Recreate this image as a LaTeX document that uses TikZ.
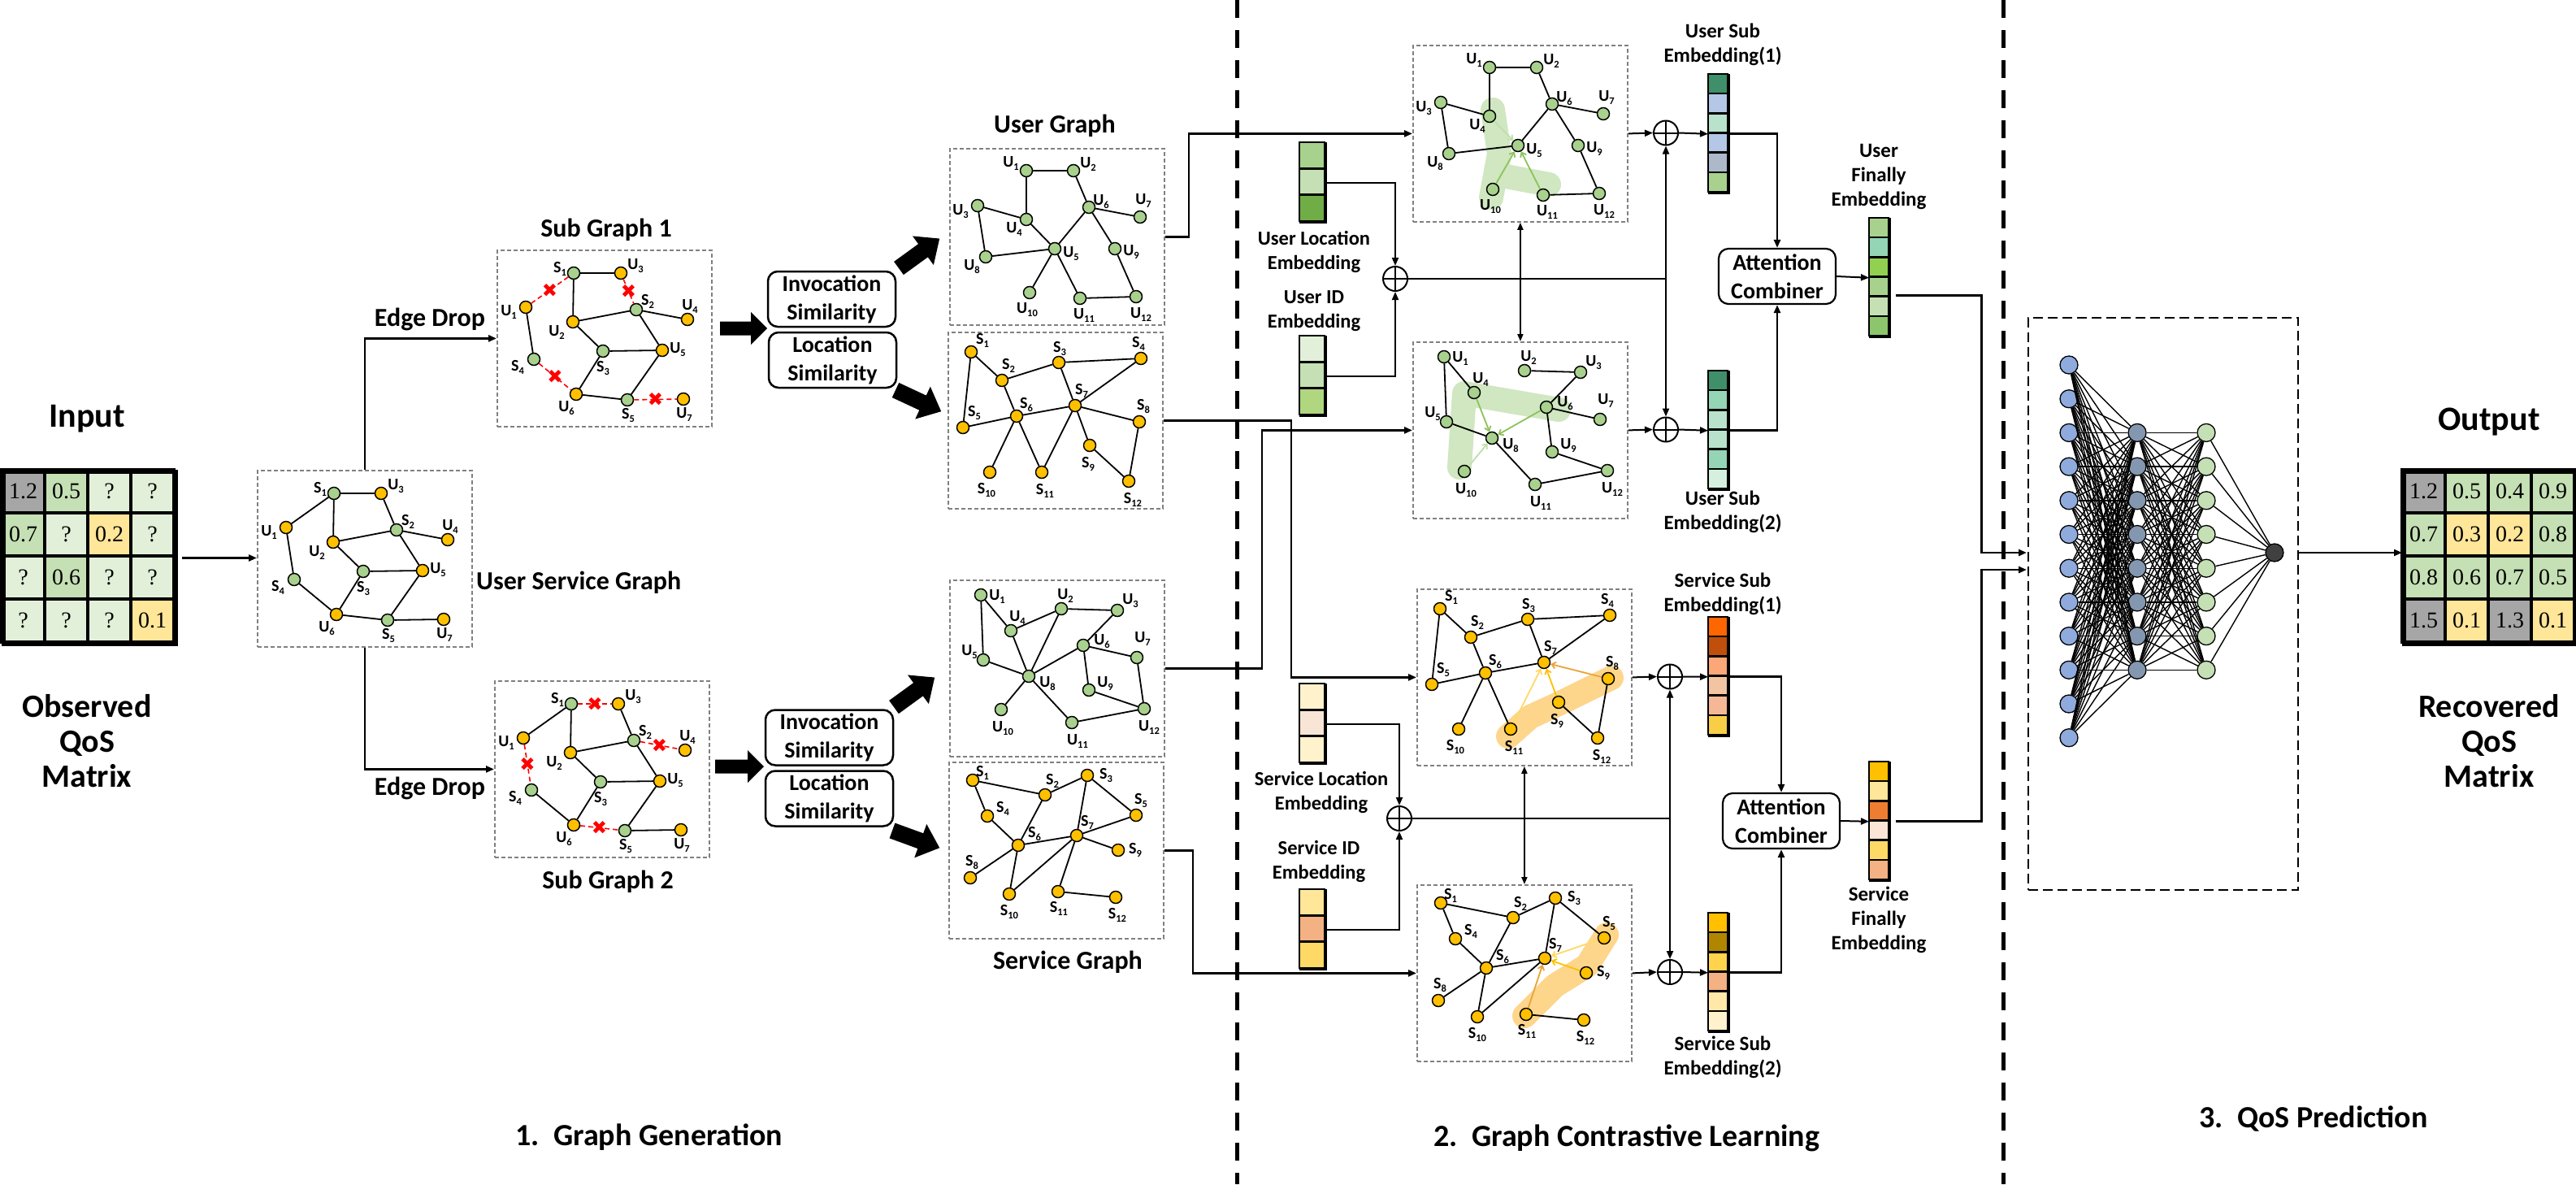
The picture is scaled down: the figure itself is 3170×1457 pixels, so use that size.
\documentclass[tikz,border=0pt]{standalone}
\usepackage{fontspec}
\setmainfont{Carlito}
\newfontfamily\tnr{Liberation Serif}
\newfontfamily\djv{DejaVu Sans}
\usetikzlibrary{arrows.meta,calc}

\definecolor{ngreen}{HTML}{A9D18E}
\definecolor{nyellow}{HTML}{FFC000}
\definecolor{qgray}{HTML}{A6A6A6}
\definecolor{qga}{HTML}{E2F0D9}
\definecolor{qgb}{HTML}{C5E0B4}
\definecolor{qy}{HTML}{FFE699}
\definecolor{blobg}{HTML}{D0E7C1}
\definecolor{bloby}{HTML}{FDD68C}
\definecolor{arg1}{HTML}{8CC35A}
\definecolor{arg2}{HTML}{BFDFA8}
\definecolor{ary1}{HTML}{E9A43A}
\definecolor{ary2}{HTML}{FFC000}
\definecolor{ary3}{HTML}{FFD966}
\definecolor{ul1}{HTML}{A9D18E}\definecolor{ul2}{HTML}{C5E0B4}\definecolor{ul3}{HTML}{70AD47}
\definecolor{ui1}{HTML}{E2F0D9}\definecolor{ui2}{HTML}{C5E0B4}\definecolor{ui3}{HTML}{B0D67F}
\definecolor{sl1}{HTML}{FFF2CC}\definecolor{sl2}{HTML}{F8E5D6}\definecolor{sl3}{HTML}{FFF2CC}
\definecolor{si1}{HTML}{FFE699}\definecolor{si2}{HTML}{F4B183}\definecolor{si3}{HTML}{FFD966}
\definecolor{ua1}{HTML}{3F8F6B}\definecolor{ua2}{HTML}{B4C7E7}\definecolor{ua3}{HTML}{B9E2CC}
\definecolor{ua4}{HTML}{B4C7E7}\definecolor{ua5}{HTML}{ADB9CA}\definecolor{ua6}{HTML}{A9D18E}
\definecolor{ub1}{HTML}{3F8F6B}\definecolor{ub2}{HTML}{93D5B5}\definecolor{ub3}{HTML}{B9E2CC}
\definecolor{ub4}{HTML}{B9E2CC}\definecolor{ub5}{HTML}{93D5B5}\definecolor{ub6}{HTML}{D5F0DF}
\definecolor{uf1}{HTML}{A9D18E}\definecolor{uf2}{HTML}{93D5B5}\definecolor{uf3}{HTML}{92D050}
\definecolor{uf4}{HTML}{A9D18E}\definecolor{uf5}{HTML}{C5E0B4}\definecolor{uf6}{HTML}{8CC56C}
\definecolor{sa1}{HTML}{FF6600}\definecolor{sa2}{HTML}{BF4F0A}\definecolor{sa3}{HTML}{FCA777}
\definecolor{sa4}{HTML}{F2C4A1}\definecolor{sa5}{HTML}{F5B896}\definecolor{sa6}{HTML}{F7CE46}
\definecolor{sb1}{HTML}{FFC000}\definecolor{sb2}{HTML}{B08600}\definecolor{sb3}{HTML}{FFD34D}
\definecolor{sb4}{HTML}{F4B183}\definecolor{sb5}{HTML}{FFE8A8}\definecolor{sb6}{HTML}{FFF2CC}
\definecolor{sf1}{HTML}{FFC000}\definecolor{sf2}{HTML}{FFE699}\definecolor{sf3}{HTML}{ED7D31}
\definecolor{sf4}{HTML}{FBE5D6}\definecolor{sf5}{HTML}{FFD966}\definecolor{sf6}{HTML}{F4B183}
\definecolor{nnA}{HTML}{8FAADC}
\definecolor{nnB}{HTML}{8497B0}
\definecolor{nnC}{HTML}{C5E0B4}
\definecolor{nnO}{HTML}{404040}

\tikzset{
 gn/.style={circle, draw=black, line width=1.5pt, minimum size=15pt, inner sep=0pt, fill=ngreen},
 yn/.style={gn, fill=nyellow},
 lb/.style={font=\bfseries\fontsize{20}{20}\selectfont, inner sep=0pt},
 ge/.style={line width=1.8pt},
 dropedge/.style={draw=red, line width=1.6pt, dash pattern=on 6pt off 4pt},
 xm/.style={text=red, font=\djv\fontsize{23}{23}\selectfont, inner sep=0pt},
 harr/.style={line width=1.8pt, -{Straight Barb[length=5pt,width=8pt]}},
 blobline/.style={line width=30pt, line cap=round, line join=round},
 gbox/.style={draw=gray, dash pattern=on 5pt off 3pt, line width=1.8pt, minimum width=264pt, minimum height=217pt, anchor=north west, inner sep=0pt},
 conn/.style={line width=2.6pt},
 thinconn/.style={line width=2pt},
 arr/.style={-{Triangle[length=10pt,width=8pt]}},
 darr/.style={{Triangle[length=9pt,width=7pt]}-{Triangle[length=9pt,width=7pt]}},
 sepline/.style={line width=5pt, dash pattern=on 22pt off 15pt},
 t42/.style={font=\bfseries\fontsize{42}{45}\selectfont, align=center, inner sep=0pt},
 t40/.style={font=\bfseries\fontsize{40}{43}\selectfont, align=center, inner sep=0pt},
 t38/.style={font=\bfseries\fontsize{38}{40}\selectfont, align=center, inner sep=0pt},
 t32/.style={font=\bfseries\fontsize{32}{35}\selectfont, align=center, inner sep=0pt},
 t28/.style={font=\bfseries\fontsize{28}{35}\selectfont, align=center},
 t25/.style={font=\bfseries\fontsize{25}{30}\selectfont, align=center, inner sep=0pt},
 t24/.style={font=\bfseries\fontsize{24.5}{30}\selectfont, align=center, inner sep=0pt},
 simbox/.style={t28, draw, rounded corners=12pt, line width=2.5pt, minimum width=157pt, minimum height=68pt, inner sep=0pt},
 attbox/.style={t28, draw, rounded corners=12pt, line width=2.2pt, minimum width=144pt, minimum height=68pt, inner sep=0pt},
 qc/.style={rectangle, draw, line width=4pt, minimum size=53pt, inner sep=0pt, font=\tnr\fontsize{28}{28}\selectfont},
 qmat/.style={draw, line width=5pt, minimum size=212pt, inner sep=0pt, anchor=north west},
 ebar/.style={draw, line width=2.5pt, inner sep=0pt, anchor=north west},
 ebarl/.style={draw, line width=2.5pt},
 oplus/.style={circle, draw, line width=2pt, minimum size=30pt, inner sep=0pt,
   path picture={\draw[line width=2pt] (path picture bounding box.north) -- (path picture bounding box.south)
   (path picture bounding box.west) -- (path picture bounding box.east);}},
 nnbox/.style={draw, dash pattern=on 12pt off 6pt, line width=2pt, minimum width=332pt, minimum height=704pt, anchor=north west, inner sep=0pt},
 nna/.style={circle, draw, line width=1.3pt, minimum size=22pt, inner sep=0pt, fill=nnA},
 nnb/.style={nna, fill=nnB},
 nnc/.style={nna, fill=nnC},
 nno/.style={nna, fill=nnO},
 nnl/.style={line width=1.4pt},
}

\newcommand\sbs[1]{\raisebox{-0.22em}{\fontsize{12.5}{12.5}\selectfont #1}}
\newcommand\V[8]{\node[#4] (#1) at (#2,#3) {};\node[lb] (#1l) at ({#2+#7},{#3+#8}) {#5\sbs{#6}};}
\newcommand\E[1]{\foreach \pa/\pb in {#1}{\draw[ge] (\pa) -- (\pb);}}
\newcommand\D[1]{\foreach \pa/\pb in {#1}{\draw[dropedge] (\pa) -- (\pb) node[midway, xm] {✖};}}
\newcommand\barr[7]{\begin{scope}[shift={(#1,#2)},rotate=#3]\fill (0,-#5) -- ({#4-#7},-#5) -- ({#4-#7},-#6) -- (#4,0) -- ({#4-#7},#6) -- ({#4-#7},#5) -- (0,#5) -- cycle;\end{scope}}
\newcommand\ebarthree[6]{\node[ebar, minimum width=31pt, minimum height=97pt] (#1) at (#2,#3) {};
 \draw[ebarl, fill=#4] (#2,#3) rectangle ++(31,32.33);
 \draw[ebarl, fill=#5] (#2,{#3+32.33}) rectangle ++(31,32.33);
 \draw[ebarl, fill=#6] (#2,{#3+64.67}) rectangle ++(31,32.33);}
\newcommand\ebarsix[9]{\node[ebar, minimum width=24pt, minimum height=145pt] (#1) at (#2,#3) {};
 \foreach \cc [count=\kk from 0] in {#4,#5,#6,#7,#8,#9}{\draw[ebarl, fill=\cc] (#2,{#3+\kk*145/6}) rectangle ++(24,{145/6});}}

% layout A : user-service graph
\newcommand\LA{%
\V{S1}{95}{29}{gn}{S}{1}{-17}{-5}
\V{U3}{153}{29}{yn}{U}{3}{18}{-9}
\V{U1}{36}{71}{yn}{U}{1}{-21}{6}
\V{S2}{172}{74}{gn}{S}{2}{14}{-10}
\V{U4}{235}{86}{yn}{U}{4}{3}{-16}
\V{U2}{94}{89}{yn}{U}{2}{-20}{13}
\V{S3}{131}{125}{gn}{S}{3}{0}{21}
\V{U5}{204}{124}{yn}{U}{5}{19}{-1}
\V{S4}{46}{135}{gn}{S}{4}{-20}{10}
\V{U6}{98}{178}{yn}{U}{6}{-12}{17}
\V{S5}{161}{185}{gn}{S}{5}{1}{19}
\V{U7}{230}{184}{yn}{U}{7}{1}{19}}
% layout B : user graph
\newcommand\LB{%
\V{U1}{95}{28}{gn}{U}{1}{-19}{-9}
\V{U2}{153}{28}{gn}{U}{2}{18}{-8}
\V{U3}{35}{71}{gn}{U}{3}{-21}{7}
\V{U4}{95}{88}{gn}{U}{4}{-15}{12}
\V{U6}{172}{73}{gn}{U}{6}{15}{-7}
\V{U7}{235}{85}{gn}{U}{7}{4}{-20}
\V{U5}{130}{124}{gn}{U}{5}{20}{6}
\V{U8}{45}{134}{gn}{U}{8}{-17}{12}
\V{U9}{204}{124}{gn}{U}{9}{20}{4}
\V{U10}{99}{178}{gn}{U}{10}{-3}{21}
\V{U11}{161}{185}{gn}{U}{11}{5}{21}
\V{U12}{230}{183}{gn}{U}{12}{6}{22}}
% layout C : location service graph
\newcommand\LC{%
\V{S1}{29}{25}{yn}{S}{1}{14}{-14}
\V{S2}{67}{60}{yn}{S}{2}{8}{-18}
\V{S3}{137}{38}{yn}{S}{3}{1}{-17}
\V{S4}{238}{33}{yn}{S}{4}{-3}{-18}
\V{S5}{19}{118}{yn}{S}{5}{14}{-18}
\V{S6}{85}{104}{yn}{S}{6}{12}{-14}
\V{S7}{157}{91}{yn}{S}{7}{8}{-18}
\V{S8}{236}{111}{yn}{S}{8}{5}{-19}
\V{S9}{175}{140}{yn}{S}{9}{-2}{23}
\V{S10}{52}{173}{yn}{S}{10}{-4}{22}
\V{S11}{116}{173}{yn}{S}{11}{4}{23}
\V{S12}{223}{184}{yn}{S}{12}{5}{23}}
% layout D : invocation user graph
\newcommand\LD{%
\V{U1}{39}{19}{gn}{U}{1}{20}{2}
\V{U2}{138}{36}{gn}{U}{2}{5}{-16}
\V{U3}{207}{38}{gn}{U}{3}{16}{-12}
\V{U4}{76}{63}{gn}{U}{4}{8}{-16}
\V{U6}{165}{81}{gn}{U}{6}{23}{-5}
\V{U7}{231}{96}{gn}{U}{7}{7}{-23}
\V{U5}{42}{99}{gn}{U}{5}{-17}{-10}
\V{U8}{98}{119}{gn}{U}{8}{23}{9}
\V{U9}{172}{136}{gn}{U}{9}{20}{-8}
\V{U10}{64}{160}{gn}{U}{10}{2}{23}
\V{U11}{151}{176}{gn}{U}{11}{7}{23}
\V{U12}{240}{159}{gn}{U}{12}{6}{23}}
% layout E : service graph
\newcommand\LE{%
\V{S1}{30}{23}{yn}{S}{1}{12}{-9}
\V{S2}{119}{41}{yn}{S}{2}{9}{-17}
\V{S3}{171}{17}{yn}{S}{3}{23}{0}
\V{S4}{48}{67}{yn}{S}{4}{19}{-9}
\V{S5}{231}{66}{yn}{S}{5}{6}{-18}
\V{S6}{86}{103}{yn}{S}{6}{20}{-14}
\V{S7}{158}{91}{yn}{S}{7}{13}{-16}
\V{S8}{27}{143}{yn}{S}{8}{2}{-19}
\V{S9}{209}{109}{yn}{S}{9}{21}{0}
\V{S10}{75}{163}{yn}{S}{10}{0}{22}
\V{S11}{135}{160}{yn}{S}{11}{1}{21}
\V{S12}{206}{167}{yn}{S}{12}{2}{22}}

\begin{document}
\begin{tikzpicture}[x=1pt,y=-1pt]
\fill[white] (0,0) rectangle (3170,1457);
\useasboundingbox (0,0) rectangle (3170,1457);

% section separators
\draw[sepline] (1522,0) -- (1522,1457);
\draw[sepline] (2465,0) -- (2465,1457);

% ---------- input ----------
\node[t42] (inlab) at (107,515) {Input};
\foreach \mr/\mc/\mcol/\mt in {0/0/qgray/1.2,0/1/qgb/0.5,0/2/qga/?,0/3/qga/?,1/0/qgb/0.7,1/1/qga/?,1/2/qy/0.2,1/3/qga/?,2/0/qga/?,2/1/qgb/0.6,2/2/qga/?,2/3/qga/?,3/0/qga/?,3/1/qga/?,3/2/qga/?,3/3/qy/0.1}
 {\node[qc, fill=\mcol] (in\mr\mc) at ({28.5+53*\mc},{604.5+53*\mr}) {\mt};}
\node[qmat] (inm) at (2,578) {};
\node[t40] (obslab) at (107,912) {Observed\\QoS\\Matrix};

% ---------- user service graph ----------
\node[gbox] (usg) at (316,578) {};
\begin{scope}[shift={(316,578)}, name prefix=usg-]
\LA
\E{S1/U3,S1/U1,S1/U2,U3/S2,S2/U2,S2/U4,S2/U5,U2/S3,S3/U5,S3/U6,U1/S4,S4/U6,U6/S5,S5/U5,S5/U7}
\end{scope}
\node[t32, anchor=west] (usglab) at (586,717) {User Service Graph};
\draw[conn, arr, shorten <=5pt] (inm.east) -- (inm.east -| usg.west);

% ---------- sub graphs ----------
\node[gbox] (sg1) at (611,307) {};
\begin{scope}[shift={(611,307)}, name prefix=sga-]
\LA
\E{S1/U3,S1/U2,S2/U2,S2/U4,S2/U5,U2/S3,S3/U5,S3/U6,U1/S4,U6/S5,S5/U5}
\D{S1/U1,U3/S2,S4/U6,S5/U7}
\end{scope}
\node[gbox] (sg2) at (608,837) {};
\begin{scope}[shift={(608,837)}, name prefix=sgb-]
\LA
\E{S1/U1,S1/U2,U3/S2,S2/U2,S2/U5,U2/S3,S3/U5,S3/U6,S4/U6,S5/U5,S5/U7}
\D{S1/U3,S2/U4,U1/S4,U6/S5}
\end{scope}
\draw[conn, arr] (usg.north) |- (sg1.west);
\draw[conn, arr] (usg.south) |- (sg2.west);
\node[t32] (ed1) at (529,393) {Edge Drop};
\node[t32] (ed2) at (529,970) {Edge Drop};
\node[t32] (sg1lab) at (746,283) {Sub Graph 1};
\node[t32] (sg2lab) at (748,1085) {Sub Graph 2};

% ---------- similarity ----------
\node[simbox] (inv1) at (1023.5,368) {Invocation\\Similarity};
\node[simbox] (loc1) at (1024.5,443) {Location\\Similarity};
\node[simbox] (inv2) at (1020.5,907.5) {Invocation\\Similarity};
\node[simbox] (loc2) at (1020.5,982.5) {Location\\Similarity};
\barr{886}{404}{0}{58}{8.5}{20}{20}
\barr{880}{943}{0}{60}{8.5}{20}{20}
\barr{1106}{330}{36}{62}{10}{22}{25}
\barr{1102}{480}{-25}{62}{10}{22}{25}
\barr{1100}{870}{36}{62}{10}{22}{25}
\barr{1098}{1022}{-20}{62}{10}{22}{25}

% ---------- generated graphs ----------
\node[t32] (uglab) at (1298,155) {User Graph};
\node[gbox] (ug) at (1168,182) {};
\begin{scope}[shift={(1168,182)}, name prefix=ug-]
\LB
\E{U1/U2,U1/U4,U2/U6,U3/U4,U3/U8,U4/U5,U6/U5,U6/U7,U6/U9,U8/U5,U5/U10,U5/U11,U9/U12,U11/U12}
\end{scope}
\node[gbox] (lsg) at (1166,408) {};
\begin{scope}[shift={(1166,408)}, name prefix=lsg-]
\LC
\E{S1/S2,S1/S5,S2/S3,S2/S6,S3/S4,S3/S7,S4/S7,S5/S6,S6/S7,S6/S10,S6/S11,S7/S11,S7/S8,S7/S9,S9/S12,S8/S12}
\end{scope}
\node[gbox] (iug) at (1168,713) {};
\begin{scope}[shift={(1168,713)}, name prefix=iug-]
\LD
\E{U1/U4,U1/U5,U4/U2,U4/U8,U2/U3,U2/U8,U3/U6,U6/U8,U6/U7,U6/U9,U7/U12,U9/U12,U5/U8,U8/U10,U8/U11,U11/U12}
\end{scope}
\node[gbox] (sg) at (1167,937) {};
\begin{scope}[shift={(1167,937)}, name prefix=sg-]
\LE
\E{S1/S2,S1/S4,S2/S3,S2/S6,S3/S7,S3/S5,S4/S6,S5/S7,S6/S7,S6/S8,S6/S10,S7/S10,S7/S9,S7/S11,S11/S12}
\end{scope}
\node[t32] (sglab) at (1314,1184) {Service Graph};

% ---------- embeddings ----------
\ebarthree{ulb}{1599}{175}{ul1}{ul2}{ul3}
\ebarthree{uib}{1599}{413}{ui1}{ui2}{ui3}
\ebarthree{slb}{1599}{841}{sl1}{sl2}{sl3}
\ebarthree{sib}{1599}{1094}{si1}{si2}{si3}
\node[t24] (ullab) at (1617,310) {User Location\\Embedding};
\node[t24] (uilab) at (1617,383) {User ID\\Embedding};
\node[t24] (sllab) at (1626,975) {Service Location\\Embedding};
\node[t24] (silab) at (1623,1060) {Service ID\\Embedding};
\node[oplus] (p1) at (1717,343) {};
\node[oplus] (p4) at (1722,1007) {};
\draw[thinconn, arr] (ulb.east) -| (p1.north);
\draw[thinconn, arr] (uib.east) -| (p1.south);
\draw[thinconn, arr] (slb.east) -| (p4.north);
\draw[thinconn, arr] (sib.east) -| (p4.south);

% ---------- contrastive graphs ----------
\node[gbox] (cut) at (1738,55) {};
\begin{scope}[shift={(1738,55)}, name prefix=cut-]
\draw[blobline, draw=blobg] (99,80) -- (107,134) -- (97,188);
\draw[blobline, draw=blobg] (110,161) -- (168,172);
\LB
\E{U1/U2,U1/U4,U2/U6,U3/U4,U3/U8,U6/U5,U6/U7,U6/U9,U8/U5,U9/U12,U11/U12}
\draw[harr, arg2] (U4) -- (U5);
\draw[harr, arg1] (U10) -- (U5);
\draw[harr, arg1] (U11) -- (U5);
\end{scope}
\node[gbox] (cub) at (1738,420) {};
\begin{scope}[shift={(1738,420)}, name prefix=cub-]
\draw[blobline, draw=blobg] (58,155) -- (64,64) -- (180,84);
\LD
\E{U1/U4,U1/U5,U2/U3,U3/U6,U6/U7,U6/U9,U5/U8,U8/U11,U9/U12,U11/U12}
\draw[harr, arg1] (U4) -- (U8);
\draw[harr, arg1] (U6) -- (U8);
\draw[harr, arg2] (U10) -- (U8);
\end{scope}
\node[gbox] (cst) at (1743,724) {};
\begin{scope}[shift={(1743,724)}, name prefix=cst-]
\draw[blobline, draw=bloby] (113,182) -- (140,158) -- (175,142) -- (240,110);
\LC
\E{S1/S2,S1/S5,S2/S3,S2/S6,S3/S4,S3/S7,S4/S7,S5/S6,S6/S7,S6/S10,S6/S11,S9/S12,S8/S12}
\draw[harr, ary1] (S8) -- (S7);
\draw[harr, ary2] (S9) -- (S7);
\draw[harr, ary3] (S11) -- (S7);
\end{scope}
\node[gbox] (csb) at (1743,1088) {};
\begin{scope}[shift={(1743,1088)}, name prefix=csb-]
\draw[blobline, draw=bloby] (234,62) -- (210,100) -- (170,125) -- (133,162);
\LE
\E{S1/S2,S1/S4,S2/S3,S2/S6,S3/S7,S3/S5,S4/S6,S6/S7,S6/S8,S6/S10,S7/S10,S11/S12}
\draw[harr, ary3] (S5) -- (S7);
\draw[harr, ary2] (S9) -- (S7);
\draw[harr, ary1] (S11) -- (S7);
\end{scope}

% connectors into contrastive graphs
\draw[conn, arr] (ug.east) -- ++(29,0) |- (cut.west);
\draw[conn, arr] (lsg.east) -- ++(157,0) |- (cst.west);
\draw[conn, arr] (iug.east) -- ++(119,0) |- (cub.west);
\draw[conn, arr] (sg.east) -- ++(35,0) |- (csb.west);
\draw[thinconn, darr] (cut.south) -- (cub.north);
\draw[thinconn, darr] (cst.south) -- (csb.north);

% ---------- sub embeddings ----------
\node[oplus] (p2) at (2050,163.5) {};
\node[oplus] (p3) at (2050,528.5) {};
\node[oplus] (p5) at (2055,832.5) {};
\node[oplus] (p6) at (2055,1196) {};
\coordinate (j1) at (2050,343);
\coordinate (j2) at (2055,1007);
\draw[conn] (p1.east) -- (j1);
\draw[thinconn, arr] (j1) -- (p2.south);
\draw[thinconn, arr] (j1) -- (p3.north);
\draw[conn] (p4.east) -- (j2);
\draw[thinconn, arr] (j2) -- (p5.south);
\draw[thinconn, arr] (j2) -- (p6.north);

\ebarsix{use1}{2102}{91}{ua1}{ua2}{ua3}{ua4}{ua5}{ua6}
\ebarsix{use2}{2102}{456}{ub1}{ub2}{ub3}{ub4}{ub5}{ub6}
\ebarsix{ufe}{2300}{268}{uf1}{uf2}{uf3}{uf4}{uf5}{uf6}
\ebarsix{sse1}{2102}{759}{sa1}{sa2}{sa3}{sa4}{sa5}{sa6}
\ebarsix{sse2}{2102}{1123}{sb1}{sb2}{sb3}{sb4}{sb5}{sb6}
\ebarsix{sfe}{2300}{937}{sf1}{sf2}{sf3}{sf4}{sf5}{sf6}

\draw[thinconn, arr] (cut.east) -- (p2.west);
\draw[thinconn, arr] (p2.east) -- (use1.west);
\draw[thinconn, arr] (cub.east) -- (p3.west);
\draw[thinconn, arr] (p3.east) -- (use2.west);
\draw[thinconn, arr] (cst.east) -- (p5.west);
\draw[thinconn, arr] (p5.east) -- (sse1.west);
\draw[thinconn, arr] (csb.east) -- (p6.west);
\draw[thinconn, arr] (p6.east) -- (sse2.west);

\node[t25] (use1lab) at (2120,55) {User Sub\\Embedding(1)};
\node[t25] (use2lab) at (2120,630) {User Sub\\Embedding(2)};
\node[t25] (ufelab) at (2312,218) {User\\Finally\\Embedding};
\node[t25] (sse1lab) at (2120,731) {Service Sub\\Embedding(1)};
\node[t25] (sse2lab) at (2120,1301) {Service Sub\\Embedding(2)};
\node[t25] (sfelab) at (2312,1132) {Service\\Finally\\Embedding};

\node[attbox] (att1) at (2187,340) {Attention\\Combiner};
\node[attbox] (att2) at (2192,1010) {Attention\\Combiner};
\draw[conn, arr] (use1.east) -| (att1.north);
\draw[conn, arr] (use2.east) -| (att1.south);
\draw[conn, arr] (sse1.east) -| (att2.north);
\draw[conn, arr] (sse2.east) -| (att2.south);
\draw[thinconn, arr] (att1.east) -- (ufe.west);
\draw[thinconn, arr] (att2.east) -- (sfe.west);

% ---------- prediction ----------
\node[nnbox] (nnb) at (2495,390) {};
\coordinate (nnin1) at (2494,680);
\coordinate (nnin2) at (2494,701);
\draw[conn, arr] ($(ufe.east)+(6,22)$) -- ++(106,0) |- (nnin1);
\draw[conn, arr] ($(sfe.east)+(6,0)$) -- ++(106,0) |- (nnin2);

\foreach \i in {0,...,11}{\node[nna] (a\i) at (2546,{449+41.7*\i}) {};}
\foreach \i in {2,...,9}{\node[nnb] (b\i) at (2630,{449+41.7*\i}) {};}
\foreach \i in {2,...,9}{\node[nnc] (c\i) at (2715,{449+41.7*\i}) {};}
\node[nno] (nout) at (2799,680) {};
\foreach \i in {0,...,11}{\foreach \j in {2,...,9}{\draw[nnl] (a\i) -- (b\j);}}
\foreach \i in {2,...,9}{\foreach \j in {2,...,9}{\draw[nnl] (b\i) -- (c\j);}}
\foreach \i in {2,...,9}{\draw[nnl] (c\i) -- (nout);}

% ---------- output ----------
\node[t42] (outlab) at (3063,519) {Output};
\foreach \mr/\mc/\mcol/\mt in {0/0/qgray/1.2,0/1/qgb/0.5,0/2/qgb/0.4,0/3/qgb/0.9,1/0/qgb/0.7,1/1/qy/0.3,1/2/qy/0.2,1/3/qgb/0.8,2/0/qgb/0.8,2/1/qgb/0.6,2/2/qgb/0.7,2/3/qgb/0.5,3/0/qgray/1.5,3/1/qy/0.1,3/2/qgray/1.3,3/3/qy/0.1}
 {\node[qc, fill=\mcol] (out\mr\mc) at ({2982.5+53*\mc},{604.5+53*\mr}) {\mt};}
\node[qmat] (outm) at (2956,578) {};
\node[t40] (reclab) at (3063,912) {Recovered\\QoS\\Matrix};
\coordinate (nnout1) at (2828,680);
\draw[thinconn, arr] (nnout1) -- (nnout1 -| outm.west);

% ---------- phase titles ----------
\node[t38] (ph1) at (799,1399) {1.\ \ Graph Generation};
\node[t38] (ph2) at (2002,1400) {2.\ \ Graph Contrastive Learning};
\node[t38] (ph3) at (2847,1377) {3.\ \ QoS Prediction};
\end{tikzpicture}
\end{document}
